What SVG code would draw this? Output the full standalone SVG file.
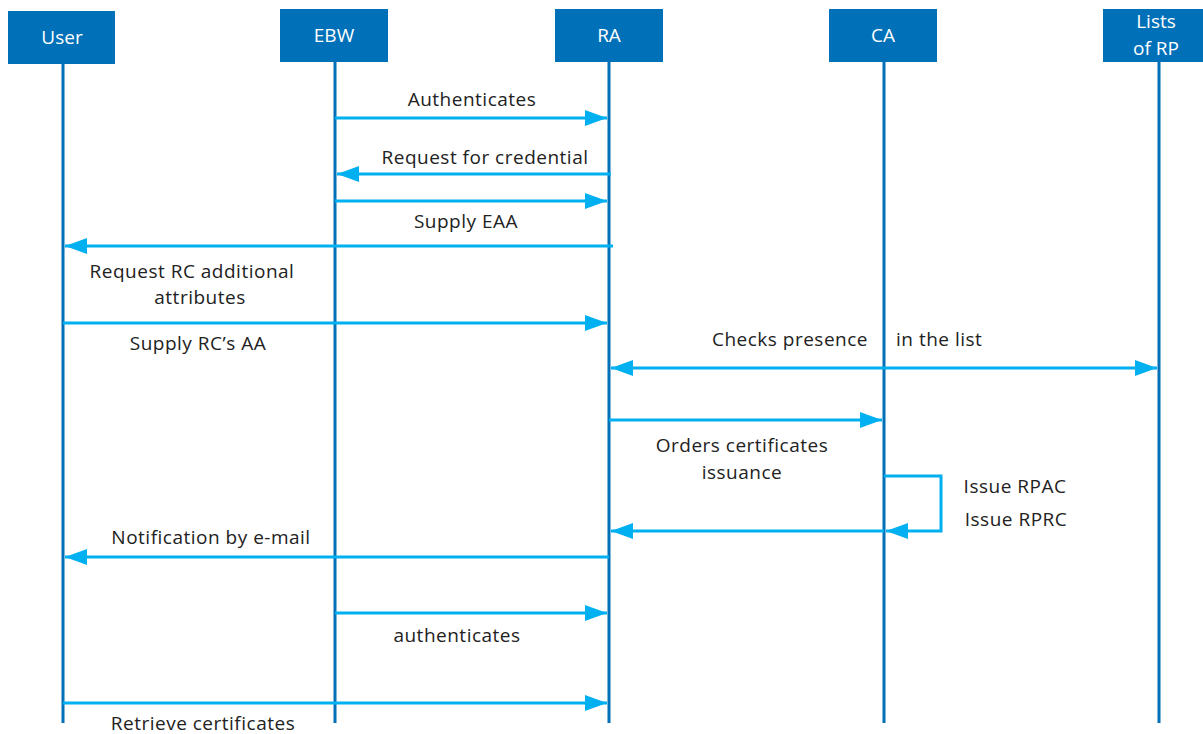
<svg xmlns="http://www.w3.org/2000/svg" width="1203" height="734" viewBox="0 0 1203 734">
<style>
.box{fill:#0070b8;}
.bl{font-family:"Open Sans","Liberation Sans",sans-serif;font-size:19px;fill:#ffffff;text-anchor:middle;}
.life{stroke:#0070b8;stroke-width:3;fill:none;}
.msg{stroke:#00b0f0;stroke-width:3;fill:none;}
.lbl{font-family:"Open Sans","Liberation Sans",sans-serif;font-size:19px;letter-spacing:0.5px;fill:#222222;text-anchor:middle;}
</style>
<defs>
<marker id="ah" markerUnits="userSpaceOnUse" markerWidth="22" markerHeight="16" refX="22" refY="8" orient="auto-start-reverse">
<path d="M0,0 L22,8 L0,16 z" fill="#00b0f0"/>
</marker>
</defs>
<rect width="1203" height="734" fill="#ffffff"/>
<g id="user">
<rect class="box" x="8" y="11" width="107" height="53"/>
<text class="bl" x="62" y="44">User</text>
<line class="life" x1="63" y1="64" x2="63" y2="723"/>
</g>
<g id="ebw">
<rect class="box" x="280" y="9" width="108" height="53"/>
<text class="bl" x="334" y="42">EBW</text>
<line class="life" x1="335" y1="62" x2="335" y2="723"/>
</g>
<g id="ra">
<rect class="box" x="555" y="9" width="108" height="53"/>
<text class="bl" x="609" y="42">RA</text>
<line class="life" x1="609" y1="62" x2="609" y2="723"/>
</g>
<g id="ca">
<rect class="box" x="829" y="9" width="108" height="53"/>
<text class="bl" x="883" y="42">CA</text>
<line class="life" x1="884" y1="62" x2="884" y2="723"/>
</g>
<g id="lists">
<rect class="box" x="1103" y="9" width="100" height="53"/>
<text class="bl" x="1156" y="28">Lists</text>
<text class="bl" x="1156" y="55">of RP</text>
<line class="life" x1="1159" y1="62" x2="1159" y2="723"/>
</g>
<g id="connectors">
<path class="msg" d="M335,118 L607,118" marker-end="url(#ah)"/>
<path class="msg" d="M611,174 L337,174" marker-end="url(#ah)"/>
<path class="msg" d="M335,201 L607,201" marker-end="url(#ah)"/>
<path class="msg" d="M613,246 L65,246" marker-end="url(#ah)"/>
<path class="msg" d="M63,323 L607,323" marker-end="url(#ah)"/>
<path class="msg" d="M611,368 L1157,368" marker-start="url(#ah)" marker-end="url(#ah)"/>
<path class="msg" d="M609,420 L882,420" marker-end="url(#ah)"/>
<path class="msg" d="M884,476 L941,476 L941,531 L886,531" marker-end="url(#ah)"/>
<path class="msg" d="M884,531 L611,531" marker-end="url(#ah)"/>
<path class="msg" d="M609,557 L65,557" marker-end="url(#ah)"/>
<path class="msg" d="M335,613 L607,613" marker-end="url(#ah)"/>
<path class="msg" d="M63,703 L607,703" marker-end="url(#ah)"/>
</g>
<g id="labels">
<text class="lbl" x="472" y="106">Authenticates</text>
<text class="lbl" x="485" y="164">Request for credential</text>
<text class="lbl" x="466" y="228">Supply EAA</text>
<text class="lbl" x="192" y="278">Request RC additional</text>
<text class="lbl" x="200" y="304">attributes</text>
<text class="lbl" x="198" y="350">Supply RC’s AA</text>
<text class="lbl" x="868" y="346" style="text-anchor:end">Checks presence</text>
<text class="lbl" x="896" y="346" style="text-anchor:start">in the list</text>
<text class="lbl" x="742" y="452">Orders certificates</text>
<text class="lbl" x="742" y="479">issuance</text>
<text class="lbl" x="1015" y="493">Issue RPAC</text>
<text class="lbl" x="1016" y="526">Issue RPRC</text>
<text class="lbl" x="211" y="544">Notification by e-mail</text>
<text class="lbl" x="457" y="642">authenticates</text>
<text class="lbl" x="203" y="730">Retrieve certificates</text>
</g>
</svg>
